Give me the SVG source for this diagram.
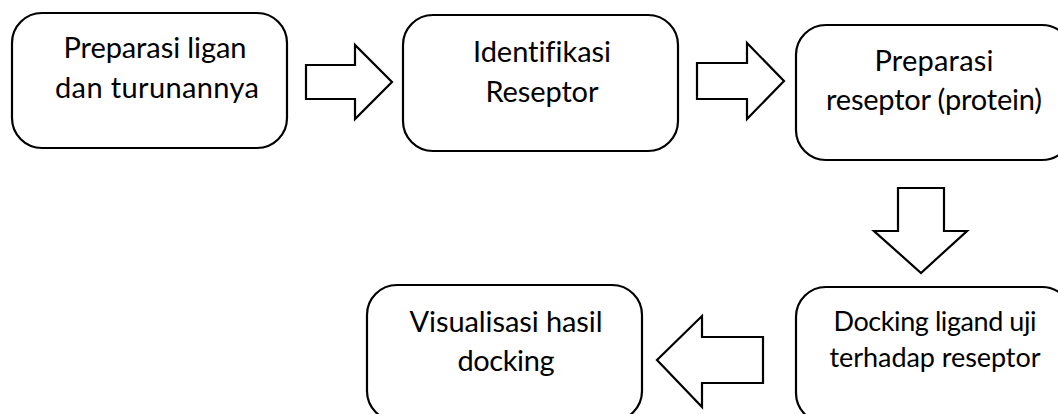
<svg xmlns="http://www.w3.org/2000/svg" width="1058" height="414" viewBox="0 0 1058 414">
<style>
.box{fill:#fff;stroke:#000;stroke-width:2.2}
.arr{fill:#fff;stroke:#000;stroke-width:2.2;stroke-linejoin:miter}
text{font-family:Lato,"Open Sans","Liberation Sans",sans-serif;font-size:29px;fill:#000;text-anchor:middle;font-variant-ligatures:none;font-feature-settings:"liga" 0}
.s{font-size:27px}
</style>
<rect width="1058" height="414" fill="#fff"/>
<g id="connectors">
<polygon class="arr" points="306,65 355,65 355,45 392,82 355,119 355,99 306,99"/>
<polygon class="arr" points="697,63 747,63 747,43 784,81 747,119 747,99 697,99"/>
<polygon class="arr" points="898,188 944,188 944,231 967,231 921,273 874,231 898,231"/>
<polygon class="arr" points="763,337 702,337 702,316 657,360 702,407 702,383 763,383"/>
</g>
<g id="n1"><rect class="box" x="12" y="13" width="275" height="135" rx="30"/><text x="155" y="58" textLength="183">Preparasi ligan</text><text x="157" y="98" textLength="204">dan turunannya</text></g>
<g id="n2"><rect class="box" x="403" y="15" width="275" height="136" rx="30"/><text x="542" y="62" textLength="138">Identifikasi</text><text x="542" y="102" textLength="113">Reseptor</text></g>
<g id="n3"><rect class="box" x="796" y="25" width="276" height="135" rx="30"/><text x="934" y="71" textLength="119">Preparasi</text><text x="934" y="110" textLength="216">reseptor (protein)</text></g>
<g id="n4"><rect class="box" x="367" y="285" width="275" height="136" rx="30"/><text x="506" y="332" textLength="193">Visualisasi hasil</text><text x="506" y="371" textLength="97">docking</text></g>
<g id="n5"><rect class="box" x="796" y="287" width="276" height="136" rx="30"/><text class="s" x="935" y="331" textLength="203">Docking ligand uji</text><text class="s" x="935" y="367" textLength="211">terhadap reseptor</text></g>
</svg>
